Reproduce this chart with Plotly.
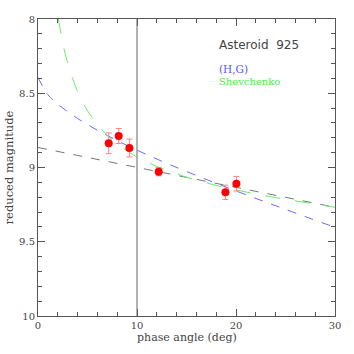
import plotly.graph_objects as go

# Observations
phase_obs = [7.14, 8.15, 9.23, 12.19, 18.93, 20.04]
mag_obs = [8.837, 8.788, 8.869, 9.028, 9.167, 9.109]
mag_err = [0.07, 0.05, 0.06, 0.028, 0.048, 0.049]

# (H,G) curve
hg_phase = [0, 1, 2, 3, 4, 5, 6, 8, 10, 12, 15, 20, 25, 30]
hg_mag = [8.393, 8.510, 8.573, 8.624, 8.670, 8.711, 8.749, 8.819, 8.883, 8.943, 9.027, 9.158, 9.282, 9.403]

# Shevchenko curve
sh_phase = [2.05, 2.25, 2.5, 2.75, 3, 3.5, 4, 4.5, 5, 6, 7, 8, 9, 10, 12, 15, 18, 21, 24, 27, 30]
sh_mag = [8.000, 8.078, 8.163, 8.235, 8.298, 8.403, 8.490, 8.560, 8.619, 8.714, 8.786, 8.844,
          8.890, 8.931, 8.994, 9.066, 9.121, 9.165, 9.203, 9.237, 9.268]

# linear part (grey dashed)
lin_phase = [0, 30]
lin_mag = [8.865, 9.268]

reference_phase = 10

x_ticks = [0, 10, 20, 30]
y_ticks = [8, 8.5, 9, 9.5, 10]
y_tick_text = ["8", "8.5", "9", "9.5", "10"]

axis_col = "#555555"
txt_col = "#444444"
font_fam = "DejaVu Serif"

fig = go.Figure()

fig.add_trace(go.Scatter(x=lin_phase, y=lin_mag, mode="lines",
                         line=dict(color="#777777", width=1, dash="dash"), hoverinfo="skip"))
fig.add_trace(go.Scatter(x=hg_phase, y=hg_mag, mode="lines", line_shape="spline",
                         line=dict(color="#6a6aff", width=1, dash="dash")))
fig.add_trace(go.Scatter(x=sh_phase, y=sh_mag, mode="lines",
                         line=dict(color="#66ee66", width=1, dash="longdash")))
fig.add_trace(go.Scatter(x=phase_obs, y=mag_obs, mode="markers",
                         marker=dict(color="#ff0000", size=8),
                         error_y=dict(type="data", array=mag_err, color="#ff8080",
                                      thickness=1, width=3)))

fig.add_vline(x=reference_phase, line=dict(color="#666666", width=1))

fig.add_annotation(x=0.603, y=0.912, xref="paper", yref="paper", text="Asteroid  925",
                   showarrow=False, xanchor="left", yanchor="middle",
                   font=dict(family="DejaVu Sans", size=12, color=txt_col))
fig.add_annotation(x=0.603, y=0.832, xref="paper", yref="paper", text="(H,G)",
                   showarrow=False, xanchor="left", yanchor="middle",
                   font=dict(family=font_fam, size=10.5, color="#5555ff"))
fig.add_annotation(x=0.603, y=0.788, xref="paper", yref="paper", text="Shevchenko",
                   showarrow=False, xanchor="left", yanchor="middle",
                   font=dict(family=font_fam, size=10, color="#44ee44"))

# axis titles
fig.add_annotation(x=0.5, y=-0.074, xref="paper", yref="paper", text="phase angle (deg)",
                   showarrow=False, xanchor="center", yanchor="middle",
                   font=dict(family=font_fam, size=11, color=txt_col))
fig.add_annotation(x=-0.098, y=0.5, xref="paper", yref="paper", text="reduced magnitude",
                   showarrow=False, xanchor="center", yanchor="middle", textangle=-90,
                   font=dict(family=font_fam, size=11.5, color=txt_col))

common = dict(showgrid=False, zeroline=False, showline=True, linecolor=axis_col, linewidth=1,
              mirror="ticks", ticks="inside", tickcolor=axis_col, ticklen=7, automargin=False,
              tickfont=dict(family=font_fam, size=10, color=txt_col))

fig.update_xaxes(range=[0, 30], tickvals=x_ticks,
                 minor=dict(dtick=2, ticks="inside", ticklen=4, tickcolor=axis_col), **common)
fig.update_yaxes(range=[10, 8], tickvals=y_ticks, ticktext=y_tick_text,
                 minor=dict(dtick=0.1, ticks="inside", ticklen=4, tickcolor=axis_col), **common)

fig.update_layout(width=354, height=354, margin=dict(l=38, r=19, t=19, b=38),
                  plot_bgcolor="white", paper_bgcolor="white", showlegend=False)

# remove the default 8px page margin so the figure fills the window
fig.write_html("out.html", config={"displayModeBar": False},
               post_script="document.body.style.margin='0';document.body.style.overflow='hidden';")
